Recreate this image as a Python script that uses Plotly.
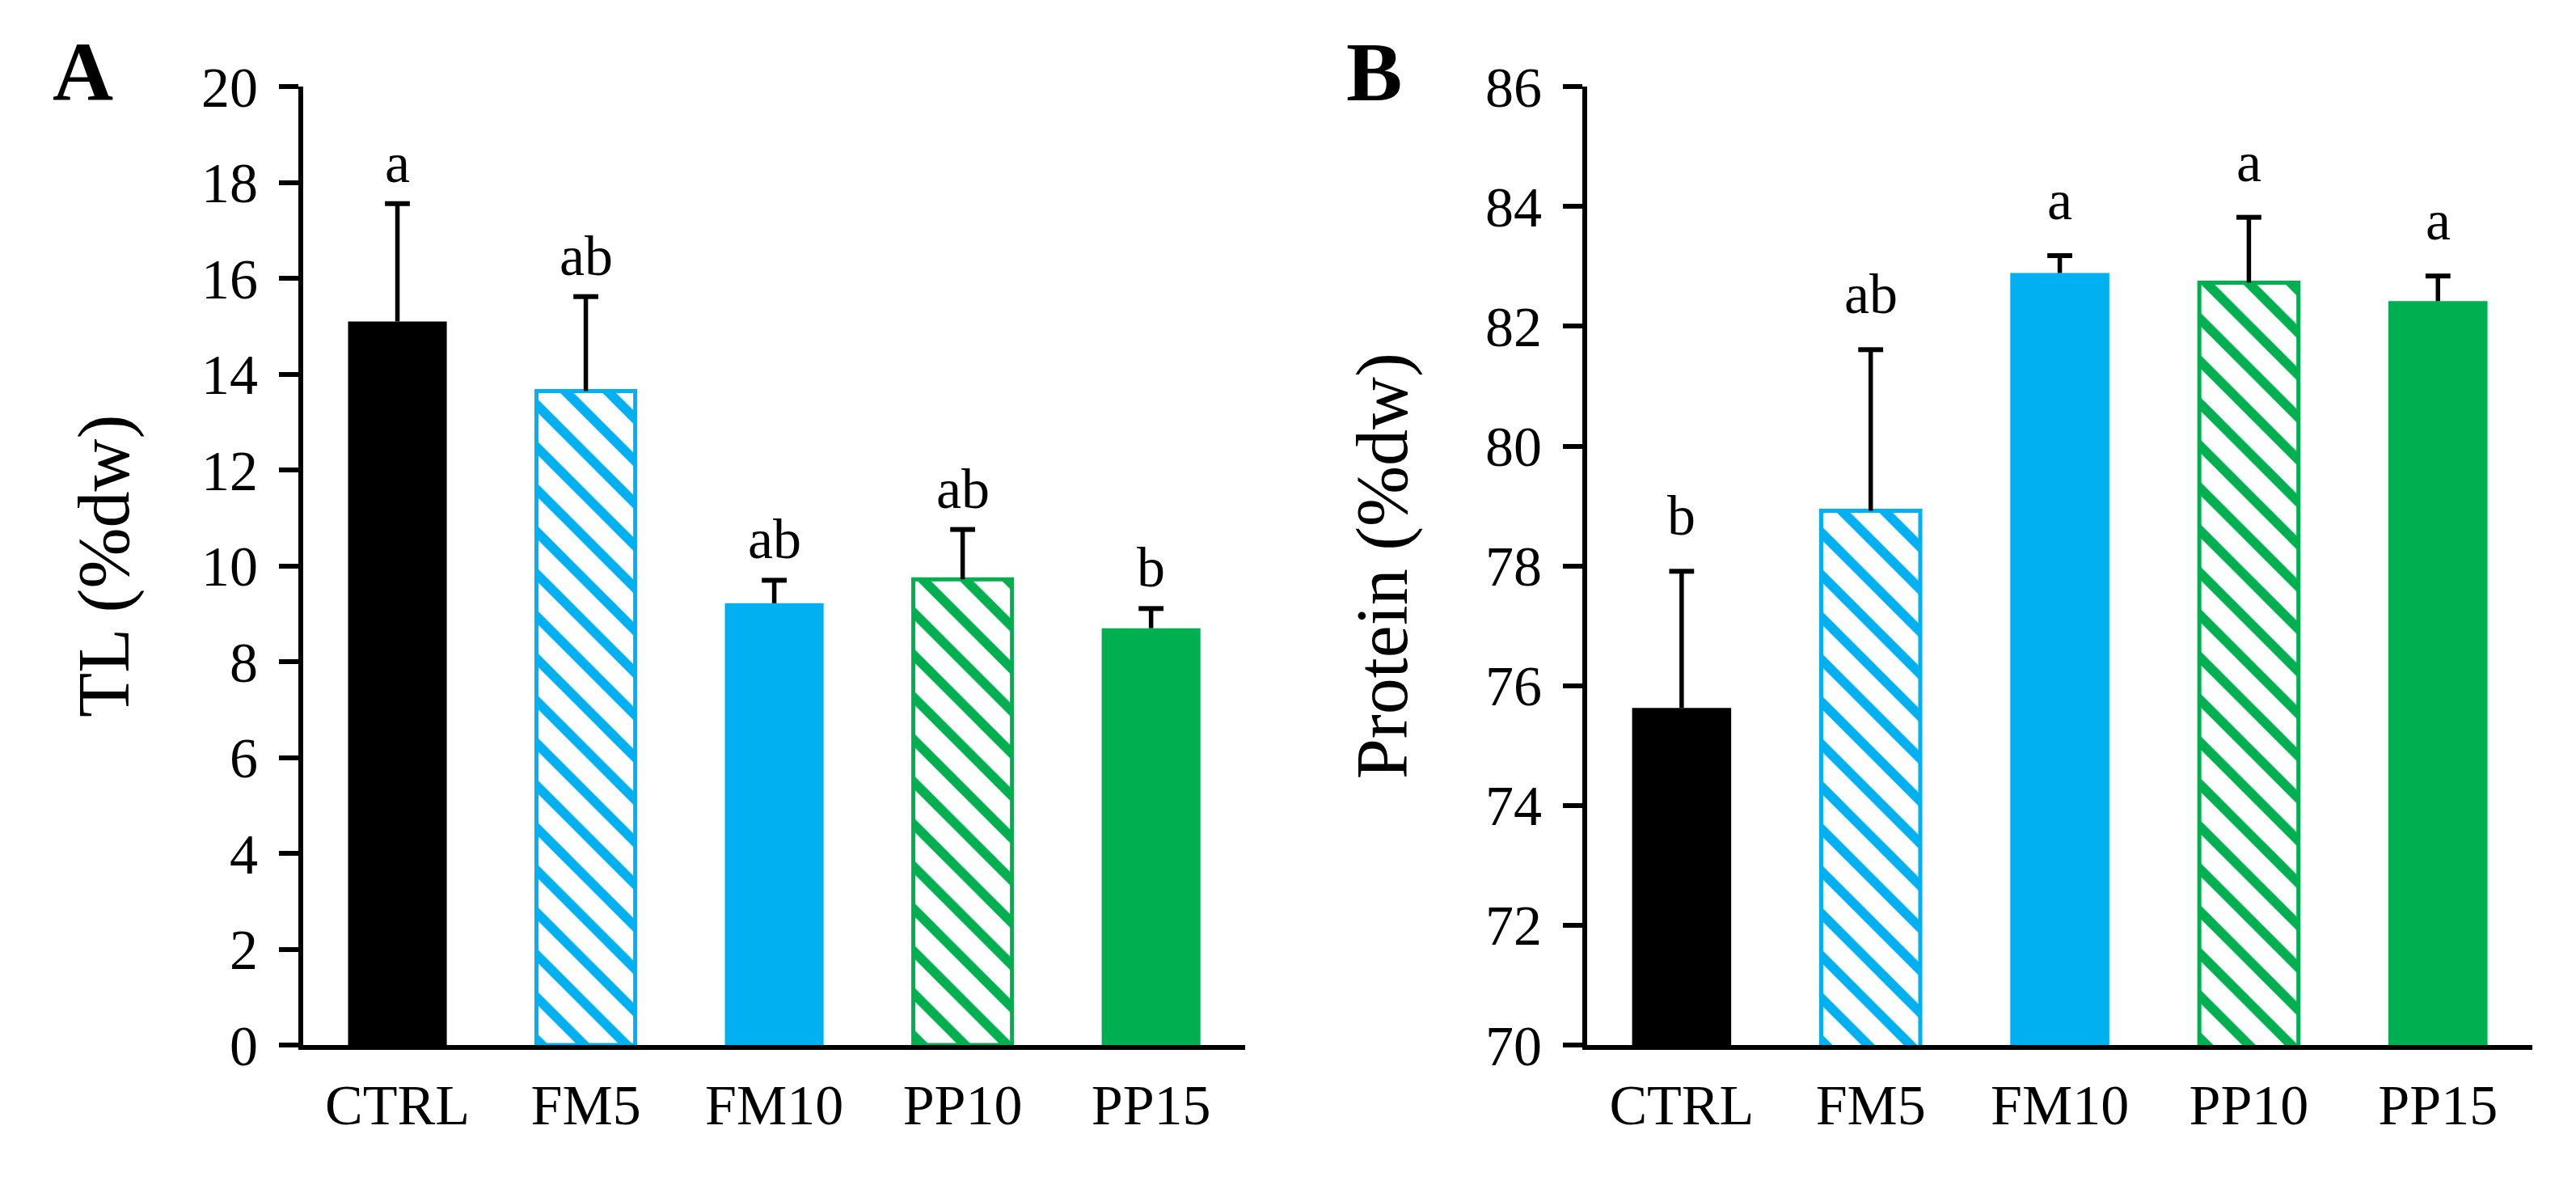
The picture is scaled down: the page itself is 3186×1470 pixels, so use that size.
import plotly.graph_objects as go

groups = ['CTRL', 'FM5', 'FM10', 'PP10', 'PP15']

tl_mean = [15.10, 13.65, 9.22, 9.72, 8.70]
tl_sd = [2.46, 1.97, 0.48, 1.04, 0.41]
tl_letters = ['a', 'ab', 'ab', 'ab', 'b']

protein_mean = [75.63, 78.92, 82.89, 82.73, 82.42]
protein_sd = [2.28, 2.69, 0.29, 1.09, 0.42]
protein_letters = ['b', 'ab', 'a', 'a', 'a']

BLUE = '#00B0F0'
GREEN = '#00B050'
fills = ['black', 'white', BLUE, 'white', GREEN]
edges = ['black', BLUE, BLUE, GREEN, GREEN]
hatch = ['', '\\', '', '\\', '']

FONT = 'Liberation Serif'

fig = go.Figure()


def add_panel(means, sds, letters, xa, ya, shift):
    # one trace per bar so each can carry its own hatch colour
    for g, m, fc, ec, hs in zip(groups, means, fills, edges, hatch):
        fig.add_trace(go.Bar(
            x=[g], y=[m], xaxis=xa, yaxis=ya,
            marker=dict(color=fc,
                        line=dict(color=ec, width=5 if hs else 0),
                        pattern=dict(shape=hs, fgcolor=ec, bgcolor=fc,
                                     fgopacity=1, fillmode='replace',
                                     size=37, solidity=0.32)),
            showlegend=False,
        ))
    # upper-only error bars: stem + cap
    sx, sy = [], []
    tops = []
    for g, m, s in zip(groups, means, sds):
        sx += [g, g, None]
        sy += [m, m + s, None]
        tops.append(m + s)
    fig.add_trace(go.Scatter(x=sx, y=sy, xaxis=xa, yaxis=ya, mode='lines',
                             line=dict(color='black', width=5.5),
                             showlegend=False, hoverinfo='skip'))
    fig.add_trace(go.Scatter(x=groups, y=tops, xaxis=xa, yaxis=ya, mode='markers',
                             marker=dict(symbol='line-ew', size=22,
                                         line=dict(color='black', width=6)),
                             showlegend=False, hoverinfo='skip'))
    for g, t, lab in zip(groups, tops, letters):
        fig.add_annotation(x=g, y=t, xref=xa, yref=ya, text=lab, showarrow=False,
                           yanchor='bottom', yshift=shift,
                           font=dict(family=FONT, size=70, color='black'))


add_panel(tl_mean, tl_sd, tl_letters, 'x', 'y', 10)
add_panel(protein_mean, protein_sd, protein_letters, 'x2', 'y2', 28)

xcommon = dict(showline=True, linecolor='black', linewidth=6, ticks='',
               showgrid=False, zeroline=False, ticklabelstandoff=8,
               automargin=False,
               tickfont=dict(family=FONT, size=70, color='black'))
ycommon = dict(showline=True, linecolor='black', linewidth=6, ticks='outside',
               ticklen=24, tickwidth=6, tickcolor='black', showgrid=False,
               zeroline=False, dtick=2, ticklabelstandoff=12,
               automargin=False,
               tickfont=dict(family=FONT, size=70, color='black'))

fig.update_layout(
    width=3186, height=1470,
    margin=dict(l=0, r=0, t=0, b=0, autoexpand=False),
    paper_bgcolor='white', plot_bgcolor='white',
    barmode='overlay',
    bargap=0.476,
    xaxis=dict(domain=[0.1152, 0.4809], **xcommon),
    xaxis2=dict(domain=[0.6136, 0.9806], anchor='y2', **xcommon),
    yaxis=dict(domain=[0.1265, 0.9325], range=[0, 20],
               title=dict(text='TL (%dw)', standoff=62,
                          font=dict(family=FONT, size=90, color='black')),
               **ycommon),
    yaxis2=dict(domain=[0.1265, 0.9325], range=[70, 86], anchor='x2',
                title=dict(text='Protein (%dw)', standoff=68,
                           font=dict(family=FONT, size=90, color='black')),
                **ycommon),
)

fig.add_annotation(x=0.0298, y=0.9455, xref='paper', yref='paper', text='<b>A</b>',
                   xanchor='center', yanchor='middle', showarrow=False,
                   font=dict(family=FONT, size=104, color='black'))
fig.add_annotation(x=0.5310, y=0.9455, xref='paper', yref='paper', text='<b>B</b>',
                   xanchor='center', yanchor='middle', showarrow=False,
                   font=dict(family=FONT, size=104, color='black'))

fig.write_html('out.html')
